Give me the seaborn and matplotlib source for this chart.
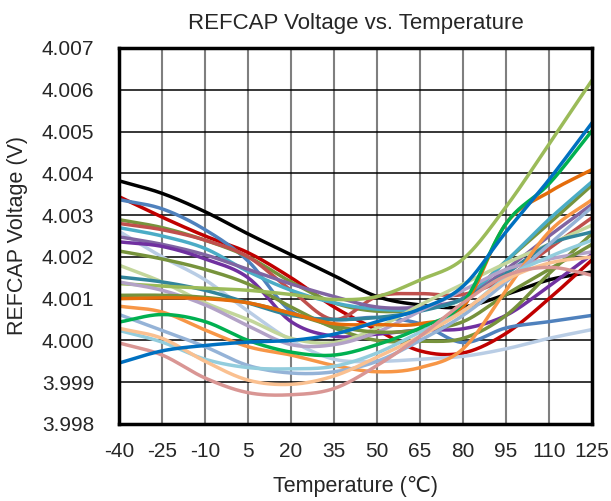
import numpy as np
import matplotlib
matplotlib.use("Agg")
import matplotlib.pyplot as plt
import seaborn as sns

# ================= DATA (offset from 4.000 V, in mV) =================
temps = [-40, -25, -10, 5, 20, 35, 50, 65, 80, 95, 110, 125]

black       = [3.82, 3.52, 3.08, 2.55, 2.05, 1.55, 1.05, 0.85, 0.80, 1.10, 1.45, 1.64]
red         = [3.44, 2.95, 2.50, 2.10, 1.50, 0.80, 0.25, -0.25, -0.30, 0.17, 1.00, 1.93]
steel       = [3.37, 3.15, 2.65, 1.90, 0.70, 0.50, 0.55, 0.40, -0.05, 0.30, 0.45, 0.60]
olive_a     = [2.89, 2.70, 2.40, 2.00, 1.40, 0.90, 0.70, 0.75, 1.00, 1.90, 2.80, 3.72]
brown       = [2.80, 2.65, 2.40, 2.00, 1.20, 0.50, 1.05, 1.12, 1.10, 1.50, 2.20, 2.94]
teal_a      = [2.70, 2.50, 2.20, 1.65, 1.20, 0.90, 0.75, 0.75, 1.00, 1.90, 2.90, 3.80]
light_steel = [2.61, 2.00, 1.45, 0.70, 0.00, -0.45, -0.50, -0.45, -0.38, -0.20, 0.05, 0.26]
lav_purple  = [2.48, 2.30, 2.05, 1.70, 1.35, 1.05, 0.80, 0.80, 1.00, 1.70, 2.50, 3.26]
purple      = [2.36, 2.25, 1.95, 1.50, 0.45, 0.10, 0.15, 0.25, 0.28, 0.60, 1.30, 2.06]
olive_b     = [2.14, 1.95, 1.70, 1.35, 0.80, 0.30, 0.00, -0.02, 0.05, 0.60, 1.60, 2.56]
sage        = [1.80, 1.40, 0.90, 0.50, 0.05, -0.05, 0.30, 0.85, 1.35, 1.85, 2.30, 2.76]
teal_b      = [1.52, 1.40, 1.20, 0.90, 0.60, 0.50, 0.55, 0.70, 1.00, 1.60, 2.30, 2.60]
light_green = [1.36, 1.30, 1.25, 1.20, 1.10, 0.98, 1.05, 1.45, 1.95, 3.20, 4.70, 6.23]
lav_gray    = [1.40, 1.20, 0.85, 0.35, -0.10, -0.10, 0.20, 0.70, 1.20, 1.70, 1.95, 2.12]
olive_c     = [1.08, 1.08, 1.03, 0.90, 0.65, 0.35, 0.20, 0.25, 0.45, 1.10, 1.70, 2.30]
orange      = [1.00, 1.02, 1.00, 0.90, 0.65, 0.40, 0.38, 0.40, 0.80, 2.80, 3.55, 4.09]
light_orng  = [0.82, 0.68, 0.25, -0.15, -0.35, -0.60, -0.75, -0.65, -0.20, 1.20, 2.60, 3.37]
gray_blue   = [0.62, 0.24, -0.15, -0.60, -0.78, -0.75, -0.50, 0.00, 0.60, 1.40, 2.30, 3.19]
green       = [0.44, 0.62, 0.45, 0.00, -0.28, -0.35, -0.10, 0.30, 0.90, 2.80, 3.75, 5.02]
sky_blue    = [0.24, -0.04, -0.45, -0.65, -0.68, -0.62, -0.30, 0.20, 0.70, 1.50, 2.00, 2.40]
peach       = [0.29, 0.05, -0.50, -0.95, -1.05, -0.85, -0.40, 0.10, 0.70, 1.45, 1.85, 2.00]
rosy        = [-0.06, -0.35, -0.90, -1.25, -1.30, -1.15, -0.60, 0.10, 0.90, 1.55, 1.75, 1.56]
blue        = [-0.54, -0.25, -0.12, -0.04, 0.00, 0.15, 0.45, 0.75, 1.30, 2.60, 3.85, 5.21]

series = [
    (black, "#000000"), (red, "#C00000"), (steel, "#4F81BD"), (olive_a, "#77933C"),
    (brown, "#C0504D"), (teal_a, "#4BACC6"), (light_steel, "#B9CDE5"),
    (lav_purple, "#8064A2"), (purple, "#7030A0"), (olive_b, "#77933C"),
    (sage, "#C3D69B"), (teal_b, "#31859C"), (light_green, "#9BBB59"),
    (lav_gray, "#B3A2C7"), (olive_c, "#76923C"), (orange, "#E46C0A"),
    (light_orng, "#F79646"), (gray_blue, "#95B3D7"), (green, "#00B050"),
    (sky_blue, "#93CDDD"), (peach, "#FAC090"), (rosy, "#D99694"), (blue, "#0070C0"),
]


def suavizar(x, y, n=24):
    """Catmull-Rom, parecido a la linea suavizada de Excel"""
    x = np.asarray(x, float)
    y = np.asarray(y, float)
    px = np.concatenate([[2 * x[0] - x[1]], x, [2 * x[-1] - x[-2]]])
    py = np.concatenate([[2 * y[0] - y[1]], y, [2 * y[-1] - y[-2]]])
    xs, ys = [], []
    t = np.linspace(0, 1, n, endpoint=False)
    for i in range(1, len(px) - 2):
        for arr, out in ((px, xs), (py, ys)):
            p0, p1, p2, p3 = arr[i - 1], arr[i], arr[i + 1], arr[i + 2]
            out.append(0.5 * (2 * p1 + (-p0 + p2) * t
                              + (2 * p0 - 5 * p1 + 4 * p2 - p3) * t ** 2
                              + (-p0 + 3 * p1 - 3 * p2 + p3) * t ** 3))
    xs = np.concatenate(xs + [[x[-1]]])
    ys = np.concatenate(ys + [[y[-1]]])
    return xs, ys


sns.set_style("white")
plt.rcParams["font.family"] = ["Liberation Sans", "DejaVu Sans"]

fig = plt.figure(figsize=(6.11, 5.01), dpi=100)
ax = fig.add_axes([0.195, 0.1537, 0.774, 0.7505])

for vals, col in series:
    xs, ys = suavizar(temps, vals)
    sns.lineplot(x=xs, y=4.0 + ys / 1000.0, color=col, lw=2.5, ax=ax,
                 sort=False, estimator=None)

ax.set_xlim(-40, 125)
ax.set_ylim(3.998, 4.007)
ax.set_xticks(temps)
ax.set_xticklabels([str(t) for t in temps])
ax.set_yticks(np.arange(3.998, 4.0075, 0.001))
ax.set_yticklabels([f"{v:.3f}" for v in np.arange(3.998, 4.0075, 0.001)])

ax.xaxis.grid(True, color="#7F7F7F", lw=1.5)
ax.yaxis.grid(True, color="#000000", lw=1.1)
ax.set_axisbelow(True)
for s in ax.spines.values():
    s.set_color("black")
    s.set_linewidth(2.5)
ax.tick_params(axis="both", length=0, labelsize=15)
ax.tick_params(axis="x", pad=13)
ax.tick_params(axis="y", pad=18)

ax.set_title("REFCAP Voltage vs. Temperature", fontsize=16, pad=14)
ax.set_xlabel("Temperature (℃)", fontsize=15.5, labelpad=11)
ax.set_ylabel("REFCAP Voltage (V)", fontsize=15.5, labelpad=10)

fig.savefig("out.png", dpi=100)
